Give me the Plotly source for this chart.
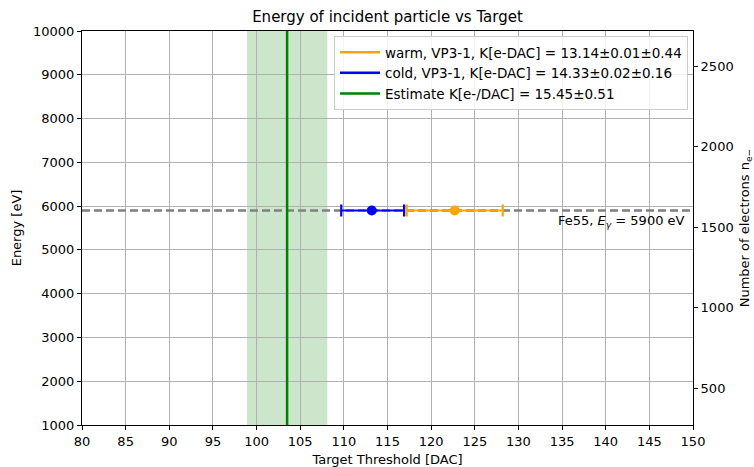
import plotly.graph_objects as go

# Measured thresholds (DAC) for the Fe55 5.9 keV line
series_names = ["warm, VP3-1, K[e-DAC] = 13.14±0.01±0.44",
                "cold, VP3-1, K[e-DAC] = 14.33±0.02±0.16"]
series_colors = ["#FFA500", "#0000FF"]
threshold_dac = [122.7, 113.2]
err_minus = [5.5, 3.5]
err_plus = [5.5, 3.7]

# Estimated threshold and its uncertainty band
estimate_name = "Estimate K[e-/DAC] = 15.45±0.51"
estimate_dac = 103.5
estimate_err = 4.6

# Fe55 photon energy and conversion to electrons
fe55_energy = 5900
ev_per_electron = 3.68

x_range = [80, 150]
y_range = [1000, 10000]
x_ticks = list(range(80, 151, 5))
y_ticks = list(range(1000, 10001, 1000))
e_ticks = [500, 1000, 1500, 2000, 2500]

FONT = "DejaVu Sans, Verdana, sans-serif"

fig = go.Figure()

# Reference energy line
fig.add_trace(go.Scatter(
    x=x_range, y=[fe55_energy, fe55_energy], mode="lines",
    line=dict(color="rgb(128,128,128)", width=2.5, dash="8px,4px"),
    showlegend=False, hoverinfo="skip"))

# Estimate uncertainty band
fig.add_shape(type="rect", xref="x", yref="paper",
              x0=estimate_dac - estimate_err, x1=estimate_dac + estimate_err,
              y0=0, y1=1, fillcolor="rgba(0,128,0,0.2)", line_width=0,
              layer="below")

# Measurements with error bars (legend shows plain line swatches)
for name, col, xv, em, ep in zip(series_names, series_colors, threshold_dac,
                                 err_minus, err_plus):
    fig.add_trace(go.Scatter(
        x=[xv], y=[fe55_energy], mode="markers", name=name,
        marker=dict(color=col, size=10), showlegend=False,
        error_x=dict(type="data", symmetric=False, array=[ep],
                     arrayminus=[em], color=col, thickness=2.2, width=6)))
    fig.add_trace(go.Scatter(
        x=[None], y=[None], mode="lines", name=name,
        line=dict(color=col, width=2.5)))

# Estimate line
fig.add_trace(go.Scatter(
    x=[estimate_dac, estimate_dac], y=y_range, mode="lines",
    name=estimate_name, line=dict(color="#008000", width=2.5)))

# Secondary axis: number of electrons
fig.add_trace(go.Scatter(
    x=[x_range[0]], y=[y_range[0] / ev_per_electron], yaxis="y2",
    mode="markers", marker=dict(opacity=0), showlegend=False,
    hoverinfo="skip"))

fig.add_annotation(
    x=x_range[1], y=fe55_energy, xref="x", yref="y",
    xanchor="right", yanchor="top", xshift=-6, yshift=-1, showarrow=False,
    text="Fe55, <i>E</i><sub><i>γ</i></sub> = 5900 eV",
    font=dict(size=13, color="black", family=FONT))

axis_common = dict(showline=True, linecolor="black", linewidth=1,
                   ticks="outside", ticklen=4, tickcolor="black",
                   tickfont=dict(size=13, color="black"),
                   zeroline=False, automargin=False)

fig.update_layout(
    width=754, height=467,
    margin=dict(l=82, r=61, t=31, b=42),
    paper_bgcolor="white", plot_bgcolor="white",
    font=dict(family=FONT, size=13, color="black"),
    title=dict(text="Energy of incident particle vs Target",
               x=(82 + 693) / 2 / 754, xanchor="center",
               y=1 - 17 / 467, yanchor="middle",
               font=dict(size=15, color="black")),
    xaxis=dict(range=x_range, tickvals=x_ticks, mirror=True,
               showgrid=True, gridcolor="rgb(176,176,176)", gridwidth=1,
               title=dict(text="Target Threshold [DAC]",
                          font=dict(size=13), standoff=10),
               **axis_common),
    yaxis=dict(range=y_range, tickvals=y_ticks,
               ticktext=[str(v) for v in y_ticks], mirror=True,
               showgrid=True, gridcolor="rgb(176,176,176)", gridwidth=1,
               title=dict(text="Energy [eV]", font=dict(size=13),
                          standoff=8),
               **axis_common),
    yaxis2=dict(range=[y_range[0] / ev_per_electron,
                       y_range[1] / ev_per_electron],
                tickvals=e_ticks, overlaying="y", side="right",
                showgrid=False,
                title=dict(text="Number of electrons n<sub>e−</sub>",
                           font=dict(size=13), standoff=18),
                **axis_common),
    legend=dict(x=(688 - 82) / 611, xanchor="right",
                y=1 - (36 - 31) / 394, yanchor="top",
                bgcolor="rgba(255,255,255,0.85)",
                bordercolor="rgb(204,204,204)", borderwidth=1,
                font=dict(size=13.5, color="black"),
                itemwidth=40, tracegroupgap=0),
    showlegend=True,
)

fig.write_html("out.html")
